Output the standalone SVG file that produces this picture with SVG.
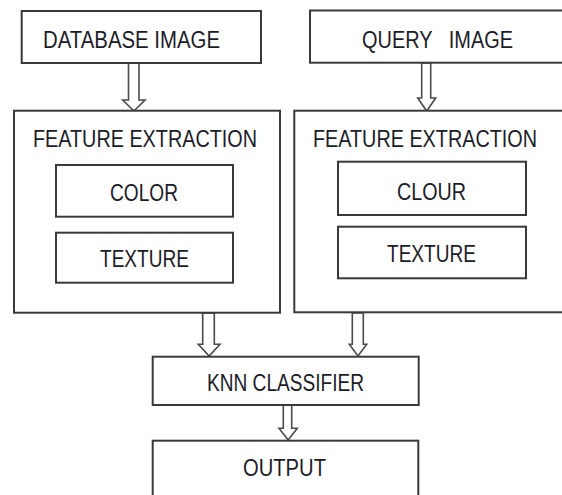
<svg xmlns="http://www.w3.org/2000/svg" width="562" height="495" viewBox="0 0 562 495">
  <style>
    .box { fill: #ffffff; stroke: #3a3a3a; stroke-width: 2; }
    .arrow { fill: #ffffff; stroke: #4a4a4a; stroke-width: 1.6; stroke-linejoin: miter; }
    .lbl { font-family: "Liberation Sans", Arial, sans-serif; font-size: 23.5px; fill: #1c1c28; }
  </style>
  <rect width="562" height="495" fill="#ffffff"/>

  <g id="connectors">
    <!-- hollow block arrows: shaft then head -->
    <polygon class="arrow" points="128.5,63 139,63 139,100 145,100 134,111 122.7,100 128.5,100"/>
    <polygon class="arrow" points="421.7,63 430.7,63 430.7,98 435.7,98 426.7,111 417.7,98 421.7,98"/>
    <polygon class="arrow" points="202.7,313 214.3,313 214.3,344.3 220,344.3 209.2,356 198.3,344.3 202.7,344.3"/>
    <polygon class="arrow" points="352.3,313 363.3,313 363.3,344.3 366.7,344.3 358,356 349.3,344.3 352.3,344.3"/>
    <polygon class="arrow" points="283.3,405 291.7,405 291.7,428.3 297.3,428.3 288.2,440 279,428.3 283.3,428.3"/>
  </g>

  <g id="database-image">
    <rect class="box" x="21.7" y="11" width="239.3" height="52"/>
    <text class="lbl" x="43" y="48" textLength="177" lengthAdjust="spacingAndGlyphs">DATABASE IMAGE</text>
  </g>

  <g id="query-image">
    <rect class="box" x="310" y="10.5" width="262" height="52.2"/>
    <text class="lbl" x="362" y="48" textLength="151" lengthAdjust="spacingAndGlyphs" xml:space="preserve">QUERY   IMAGE</text>
  </g>

  <g id="feature-extraction-db">
    <rect class="box" x="14" y="110.7" width="266" height="202"/>
    <text class="lbl" x="33" y="147" textLength="224" lengthAdjust="spacingAndGlyphs">FEATURE EXTRACTION</text>
  </g>
  <g id="color-db">
    <rect class="box" x="56" y="165" width="177" height="51.7"/>
    <text class="lbl" x="110" y="201" textLength="68" lengthAdjust="spacingAndGlyphs">COLOR</text>
  </g>
  <g id="texture-db">
    <rect class="box" x="56" y="232.7" width="177" height="50"/>
    <text class="lbl" x="100" y="266.7" textLength="89" lengthAdjust="spacingAndGlyphs">TEXTURE</text>
  </g>

  <g id="feature-extraction-query">
    <rect class="box" x="294.3" y="110.7" width="278" height="201.6"/>
    <text class="lbl" x="313" y="147" textLength="224" lengthAdjust="spacingAndGlyphs">FEATURE EXTRACTION</text>
  </g>
  <g id="colour-query">
    <rect class="box" x="338" y="161.7" width="188" height="53.3"/>
    <text class="lbl" x="397" y="200" textLength="69" lengthAdjust="spacingAndGlyphs">CLOUR</text>
  </g>
  <g id="texture-query">
    <rect class="box" x="338" y="226.7" width="188" height="51.6"/>
    <text class="lbl" x="387" y="261.7" textLength="89" lengthAdjust="spacingAndGlyphs">TEXTURE</text>
  </g>

  <g id="knn-classifier">
    <rect class="box" x="152.7" y="356.7" width="266" height="48.3"/>
    <text class="lbl" x="207" y="391" textLength="157" lengthAdjust="spacingAndGlyphs">KNN CLASSIFIER</text>
  </g>

  <g id="output">
    <rect class="box" x="152.7" y="440.7" width="265.6" height="70"/>
    <text class="lbl" x="243" y="475.5" textLength="83" lengthAdjust="spacingAndGlyphs">OUTPUT</text>
  </g>
</svg>
